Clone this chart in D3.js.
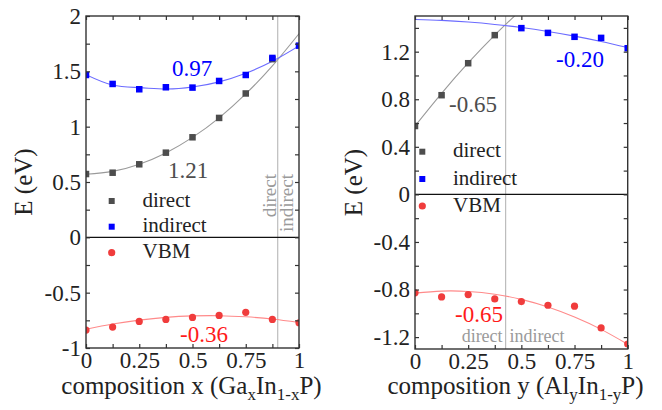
<!DOCTYPE html>
<html><head><meta charset="utf-8">
<script src="https://cdn.jsdelivr.net/npm/d3@7"></script>
</head>
<body style="margin:0;background:#fff"><svg id="c" width="662" height="410" style="font-family:'Liberation Serif'"></svg>
<script>
// ---------- data ----------
const comp = [0, 0.125, 0.25, 0.375, 0.5, 0.625, 0.75, 0.875, 1];

// Left panel: Ga_x In_1-x P
const gaDirect   = [0.572, 0.584, 0.660, 0.765, 0.904, 1.079, 1.300, 1.610, null];
const gaIndirect = [1.467, 1.386, 1.338, 1.356, 1.353, 1.413, 1.467, 1.621, 1.732];
const gaVBM      = [-0.838, -0.811, -0.760, -0.742, -0.724, -0.706, -0.678, -0.742, -0.772];
const gaDirectFit   = [0.570, 0.596, 0.661, 0.763, 0.903, 1.080, 1.296, 1.549, 1.840];
const gaIndirectFit = [1.470, 1.376, 1.353, 1.340, 1.358, 1.405, 1.483, 1.591, 1.730];
const gaVBMFit      = [-0.830, -0.783, -0.748, -0.723, -0.710, -0.708, -0.718, -0.738, -0.770];
const gaCross = 0.9;

// Right panel: Al_y In_1-y P
const alDirect   = [0.575, 0.834, 1.103, 1.339, null, null, null, null, null];
const alIndirect = [null, null, null, null, 1.398, 1.358, 1.325, 1.316, 1.229];
const alVBM      = [-0.828, -0.862, -0.842, -0.879, -0.901, -0.932, -0.940, -1.123, -1.258];
const alDirectFit   = [0.575, 0.850, 1.105, 1.339, 1.554, null, null, null, null];
const alIndirectFit = [1.470, 1.463, 1.449, 1.429, 1.403, 1.370, 1.331, 1.286, 1.235];
const alVBMFit      = [-0.830, -0.813, -0.816, -0.839, -0.883, -0.947, -1.031, -1.135, -1.260];
const alCross = 0.426;

// ticks
const xTicksMajor = [0, 0.25, 0.5, 0.75, 1];
const xTicksAll = [0, 0.125, 0.25, 0.375, 0.5, 0.625, 0.75, 0.875, 1];
const gaYTicksMajor = [-1, -0.5, 0, 0.5, 1, 1.5, 2];
const gaYTicksAll = [-1, -0.75, -0.5, -0.25, 0, 0.25, 0.5, 0.75, 1, 1.25, 1.5, 1.75, 2];
const alYTicksMajor = [-1.2, -0.8, -0.4, 0, 0.4, 0.8, 1.2];
const alYTicksAll = [-1.2, -1.0, -0.8, -0.6, -0.4, -0.2, 0, 0.2, 0.4, 0.6, 0.8, 1.0, 1.2, 1.4];

// labels
const bowGa = {direct: "1.21", indirect: "0.97", vbm: "-0.36"};
const bowAl = {direct: "-0.65", indirect: "-0.20", vbm: "-0.65"};
const legendLabels = ["direct", "indirect", "VBM"];

// ---------- styles ----------
const C = {
  dir: "#4d4d4d", dirLine: "#9a9a9a",
  ind: "#0000ff", indLine: "#6b6bff",
  vbm: "#f03c3c", vbmLine: "#ff8a8a",
  frame: "#333", cross: "#bdbdbd"
};
const FONT = '"Liberation Serif"';

const svg = d3.select("#c");

function fmt(v){ const r = Math.round(v*1000)/1000; return String(r); }
function has(arr, v){ return arr.some(a => Math.abs(a - v) < 1e-9); }

function addText(parent, str, size){
  return parent.append("text").style("font-family", FONT).style("font-size", size + "px").text(str);
}

function panel(cfg){
  const g = svg.append("g");
  const x = d3.scaleLinear().domain([0,1]).range([cfg.x0, cfg.x1]);
  const y = d3.scaleLinear().domain(cfg.yDomain).range([cfg.yBot, cfg.yTop]);
  const clipId = "clip" + cfg.id;
  svg.append("clipPath").attr("id", clipId).append("rect")
    .attr("x", cfg.x0).attr("y", cfg.yTop)
    .attr("width", cfg.x1 - cfg.x0).attr("height", cfg.yBot - cfg.yTop);

  const plot = g.append("g").attr("clip-path", `url(#${clipId})`);

  plot.append("line").attr("x1", x(cfg.cross)).attr("x2", x(cfg.cross))
    .attr("y1", cfg.yTop).attr("y2", cfg.yBot)
    .attr("stroke", C.cross).attr("stroke-width", 1.2);

  plot.append("line").attr("x1", cfg.x0).attr("x2", cfg.x1)
    .attr("y1", y(0)).attr("y2", y(0))
    .attr("stroke", "#111").attr("stroke-width", 1.4);

  const line = d3.line().x(d => x(d[0])).y(d => y(d[1])).curve(d3.curveNatural);
  const fits = [[cfg.dirFit, C.dirLine], [cfg.indFit, C.indLine], [cfg.vbmFit, C.vbmLine]];
  fits.forEach(([arr, col]) => {
    const pts = comp.map((c,i) => [c, arr[i]]).filter(d => d[1] != null);
    plot.append("path").attr("d", line(pts)).attr("fill", "none")
      .attr("stroke", col).attr("stroke-width", 1.1);
  });

  const sq = 6.5;
  const dpts = comp.map((c,i)=>[c, cfg.dir[i]]).filter(d=>d[1]!=null);
  plot.selectAll(null).data(dpts).join("rect")
    .attr("x", d => x(d[0]) - sq/2).attr("y", d => y(d[1]) - sq/2)
    .attr("width", sq).attr("height", sq).attr("fill", C.dir);
  const ipts = comp.map((c,i)=>[c, cfg.ind[i]]).filter(d=>d[1]!=null);
  plot.selectAll(null).data(ipts).join("rect")
    .attr("x", d => x(d[0]) - sq/2).attr("y", d => y(d[1]) - sq/2)
    .attr("width", sq).attr("height", sq).attr("fill", C.ind);
  const vpts = comp.map((c,i)=>[c, cfg.vbm[i]]).filter(d=>d[1]!=null);
  plot.selectAll(null).data(vpts).join("circle")
    .attr("cx", d => x(d[0])).attr("cy", d => y(d[1])).attr("r", 3.6)
    .attr("fill", C.vbm);

  const tickStyle = sel => {
    sel.attr("font-family", FONT).attr("font-size", 23);
    sel.select(".domain").remove();
    sel.selectAll(".tick line").attr("stroke", C.frame).attr("stroke-width", 1.2);
    sel.selectAll(".tick text").attr("fill", "#222")
      .style("font-family", FONT).style("font-size", "23px");
  };
  g.append("g").attr("transform", `translate(0,${cfg.yBot})`)
    .call(d3.axisBottom(x).tickValues(xTicksAll).tickSize(-4).tickPadding(4)
      .tickFormat(v => has(xTicksMajor, v) ? fmt(v) : ""))
    .call(tickStyle);
  g.append("g").attr("transform", `translate(0,${cfg.yTop})`)
    .call(d3.axisTop(x).tickValues(xTicksAll).tickSize(-4).tickFormat(() => ""))
    .call(tickStyle);
  g.append("g").attr("transform", `translate(${cfg.x0},0)`)
    .call(d3.axisLeft(y).tickValues(cfg.yTicksAll).tickSize(-4).tickPadding(5)
      .tickFormat(v => has(cfg.yTicksMajor, v) ? fmt(v) : ""))
    .call(tickStyle);
  g.append("g").attr("transform", `translate(${cfg.x1},0)`)
    .call(d3.axisRight(y).tickValues(cfg.yTicksAll).tickSize(-4).tickFormat(() => ""))
    .call(tickStyle);

  g.append("rect").attr("x", cfg.x0).attr("y", cfg.yTop)
    .attr("width", cfg.x1 - cfg.x0).attr("height", cfg.yBot - cfg.yTop)
    .attr("fill", "none").attr("stroke", C.frame).attr("stroke-width", 1.4);

  const lg = g.append("g");
  const lcols = [C.dir, C.ind, C.vbm];
  legendLabels.forEach((lab, i) => {
    const cy = cfg.legY[i];
    if (i < 2) {
      lg.append("rect").attr("x", cfg.legX - 3).attr("y", cy - 3)
        .attr("width", 6).attr("height", 6).attr("fill", lcols[i]);
    } else {
      lg.append("circle").attr("cx", cfg.legX).attr("cy", cy).attr("r", 3.6).attr("fill", lcols[i]);
    }
    addText(lg, lab, 21).attr("x", cfg.legTX).attr("y", cy + 5.5).attr("fill", "#222");
  });

  addText(g, "E (eV)", 25)
    .attr("transform", `translate(${cfg.yTitleX},${(cfg.yTop+cfg.yBot)/2}) rotate(-90)`)
    .attr("text-anchor", "middle").attr("dy", "0.35em").attr("fill", "#222");
  const xt = addText(g, null, 25).attr("x", cfg.xTitleX).attr("y", 394)
    .attr("text-anchor", "middle").attr("fill", "#222");
  cfg.xTitle.forEach(part => {
    const t = xt.append("tspan").text(part.t);
    if (part.sub) t.style("font-size", "17px").attr("dy", 6);
    if (part.up) t.attr("dy", -6);
  });
  return {g, x, y};
}

// ---------- left panel ----------
const L = panel({
  id: "L", x0: 86, x1: 299, yTop: 16, yBot: 348, yDomain: [-1, 2],
  dir: gaDirect, ind: gaIndirect, vbm: gaVBM,
  dirFit: gaDirectFit, indFit: gaIndirectFit, vbmFit: gaVBMFit,
  cross: gaCross, yTicksMajor: gaYTicksMajor, yTicksAll: gaYTicksAll,
  legX: 111.7, legTX: 142.5, legY: [201, 226.7, 252.7],
  yTitleX: 23, xTitleX: 191.5,
  xTitle: [{t:"composition x (Ga"},{t:"x",sub:true},{t:"In",up:true},{t:"1-x",sub:true},{t:"P)",up:true}]
});
addText(L.g, bowGa.indirect, 23).attr("x", 172).attr("y", 76).attr("fill", C.ind);
addText(L.g, bowGa.direct, 23).attr("x", 168).attr("y", 178).attr("fill", C.dir);
addText(L.g, bowGa.vbm, 23).attr("x", 180).attr("y", 342).attr("fill", "#ff1a1a");
addText(L.g, "direct", 19).attr("transform", `translate(${L.x(gaCross)-1.5},174) rotate(-90)`)
  .attr("text-anchor","end").attr("fill","#9a9a9a");
addText(L.g, "indirect", 19).attr("transform", `translate(${L.x(gaCross)+15},174) rotate(-90)`)
  .attr("text-anchor","end").attr("fill","#9a9a9a");

// ---------- right panel ----------
const R = panel({
  id: "R", x0: 415, x1: 627.7, yTop: 16, yBot: 349, yDomain: [-1.3, 1.5],
  dir: alDirect, ind: alIndirect, vbm: alVBM,
  dirFit: alDirectFit, indFit: alIndirectFit, vbmFit: alVBMFit,
  cross: alCross, yTicksMajor: alYTicksMajor, yTicksAll: alYTicksAll,
  legX: 422.3, legTX: 453, legY: [151.7, 179, 206],
  yTitleX: 353, xTitleX: 515.5,
  xTitle: [{t:"composition y (Al"},{t:"y",sub:true},{t:"In",up:true},{t:"1-y",sub:true},{t:"P)",up:true}]
});
addText(R.g, bowAl.direct, 23).attr("x", 449).attr("y", 112).attr("fill", C.dir);
addText(R.g, bowAl.indirect, 23).attr("x", 556).attr("y", 67).attr("fill", C.ind);
addText(R.g, bowAl.vbm, 23).attr("x", 455).attr("y", 322).attr("fill", "#ff1a1a");
addText(R.g, "direct", 18).attr("x", R.x(alCross)-3).attr("y", 342).attr("text-anchor","end").attr("fill","#9a9a9a");
addText(R.g, "indirect", 18).attr("x", R.x(alCross)+4).attr("y", 342).attr("fill","#9a9a9a");
</script></body></html>
